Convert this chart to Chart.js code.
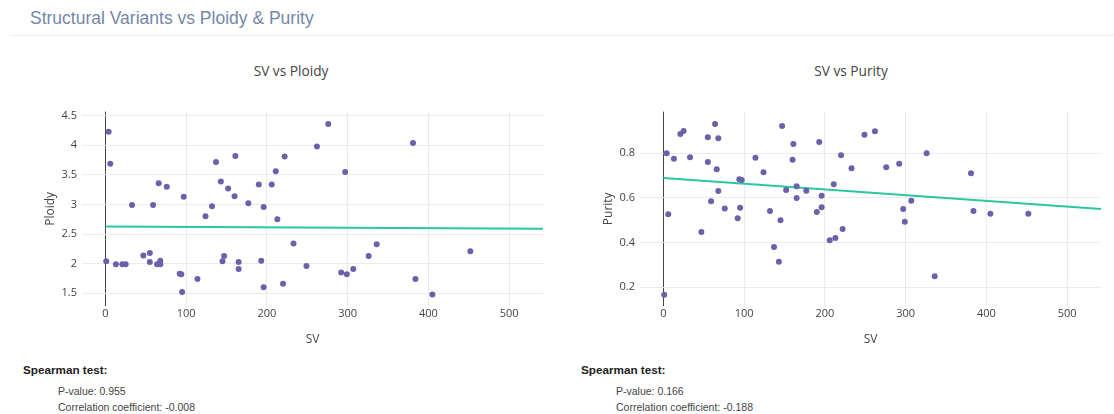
<!DOCTYPE html>
<html>
<head>
<meta charset="utf-8">
<script src="https://cdn.jsdelivr.net/npm/chart.js@4.4.0/dist/chart.umd.min.js"></script>
<style>
  html, body { margin: 0; padding: 0; background: #fff; overflow: hidden; }
  body { width: 1114px; height: 414px; position: relative; font-family: "Liberation Sans", Arial, sans-serif; }
  .page-title { position: absolute; left: 30px; top: 8px; font-size: 17.5px; color: #7487a6; }
  .divider { position: absolute; left: 12px; right: 0; top: 35px; height: 1px; background: #ececec; }
  .chart-title { position: absolute; top: 61px; font-family: "Open Sans", sans-serif; font-size: 13.7px; color: #444; text-align: center; width: 300px; }
  .box { position: absolute; top: 100px; height: 250px; width: 516px; }
  .stats { position: absolute; top: 363px; font-size: 10.5px; color: #444; }
  .stats b { color: #222; display: block; font-size: 11.7px; margin-bottom: 7px; }
  .stats div { margin-left: 35px; line-height: 16px; }
</style>
</head>
<body>
<div class="page-title">Structural Variants vs Ploidy &amp; Purity</div>
<div class="divider"></div>

<div class="chart-title" style="left:141px">SV vs Ploidy</div>
<div class="chart-title" style="left:701px">SV vs Purity</div>

<div class="box" style="left:40px"><canvas id="ploidy-chart"></canvas></div>
<div class="box" style="left:598px"><canvas id="purity-chart"></canvas></div>

<div class="stats" style="left:23px">
  <b>Spearman test:</b>
  <div>P-value: 0.955</div>
  <div>Correlation coefficient: -0.008</div>
</div>
<div class="stats" style="left:581px">
  <b>Spearman test:</b>
  <div>P-value: 0.166</div>
  <div>Correlation coefficient: -0.188</div>
</div>

<script>
(function() {
  'use strict';

  // Number of structural variants per sample (shared by both plots)
  var svCounts = [1, 4, 6, 13, 21, 25, 33, 47, 55, 55, 59, 64, 66, 68, 68, 76, 92, 94, 95, 97,
    114, 124, 132, 137, 143, 145, 147, 152, 160, 161, 165, 165, 177, 190, 193, 196, 196, 206,
    211, 213, 220, 222, 233, 249, 262, 276, 292, 297, 299, 307, 326, 336, 381, 384, 405, 452];

  var ploidyValues = [2.04, 4.23, 3.69, 1.99, 1.99, 1.99, 2.99, 2.14, 2.18, 2.03, 2.99, 1.99, 3.36,
    2.05, 1.99, 3.30, 1.83, 1.82, 1.52, 3.13, 1.74, 2.80, 2.97, 3.72, 3.39, 2.04, 2.13, 3.27,
    3.14, 3.82, 2.03, 1.91, 3.02, 3.34, 2.05, 2.96, 1.60, 3.34, 3.56, 2.75, 1.66, 3.81, 2.34,
    1.96, 3.98, 4.36, 1.85, 3.55, 1.82, 1.91, 2.13, 2.33, 4.04, 1.74, 1.48, 2.21];

  var purityValues = [0.166, 0.80, 0.527, 0.776, 0.887, 0.90, 0.782, 0.447, 0.872, 0.761, 0.585,
    0.931, 0.728, 0.867, 0.631, 0.552, 0.509, 0.683, 0.556, 0.68, 0.78, 0.715, 0.541, 0.38,
    0.314, 0.50, 0.922, 0.635, 0.771, 0.842, 0.652, 0.60, 0.632, 0.537, 0.851, 0.61, 0.558,
    0.41, 0.661, 0.42, 0.791, 0.46, 0.733, 0.883, 0.899, 0.737, 0.753, 0.55, 0.493, 0.587,
    0.80, 0.248, 0.71, 0.541, 0.529, 0.529];

  // Linear fit lines: value at the ends of fitRange
  var fitRange = [0, 542];
  var ploidyFit = [2.63, 2.59];
  var purityFit = [0.689, 0.55];

  var svTicks = [0, 100, 200, 300, 400, 500];

  var POINT_COLOR = '#6b61ab';
  var LINE_COLOR = '#2bc79f';
  var TICK_FONT = { family: 'Open Sans', size: 11 };
  var TITLE_FONT = { family: 'Open Sans', size: 12 };

  function makeChart(id, yValues, fit, yLabel, yMin, yMax, yStep, decimals) {
    var points = svCounts.map(function(sv, i) { return { x: sv, y: yValues[i] }; });
    var fitLine = fitRange.map(function(sv, i) { return { x: sv, y: fit[i] }; });

    return new Chart(document.getElementById(id), {
      type: 'scatter',
      data: {
        datasets: [
          {
            label: 'fit',
            type: 'line',
            data: fitLine,
            borderColor: LINE_COLOR,
            borderWidth: 2,
            pointRadius: 0,
            fill: false,
            order: 2
          },
          {
            label: yLabel,
            data: points,
            backgroundColor: POINT_COLOR,
            borderColor: POINT_COLOR,
            borderWidth: 0,
            pointRadius: 3,
            order: 1
          }
        ]
      },
      options: {
        responsive: true,
        maintainAspectRatio: false,
        animation: false,
        layout: { padding: { top: 11, right: 13, bottom: 0, left: 0 } },
        plugins: {
          legend: { display: false },
          tooltip: { enabled: false }
        },
        scales: {
          x: {
            type: 'linear',
            min: -29,
            max: 542,
            afterBuildTicks: function(scale) {
              scale.ticks = svTicks.map(function(v) { return { value: v }; });
            },
            afterFit: function(scale) { scale.height = 44; },
            border: { display: false },
            grid: {
              drawTicks: false,
              lineWidth: 1,
              color: function(ctx) { return ctx.tick && ctx.tick.value === 0 ? '#444' : '#ebebeb'; }
            },
            ticks: { color: '#444', font: TICK_FONT, padding: 1, maxRotation: 0 },
            title: { display: true, text: 'SV', color: '#444', font: TITLE_FONT, padding: { top: 0, bottom: 3 } }
          },
          y: {
            min: yMin,
            max: yMax,
            ticks: {
              stepSize: yStep,
              includeBounds: false,
              color: '#444',
              font: TICK_FONT,
              padding: 5,
              callback: function(v) { return decimals ? v.toFixed(decimals) : String(Math.round(v * 10) / 10); }
            },
            afterFit: function(scale) { scale.width = 42; },
            border: { display: false },
            grid: { drawTicks: false, color: '#ebebeb' },
            title: { display: true, text: yLabel, color: '#444', font: TITLE_FONT, padding: { top: 3, bottom: 0 } }
          }
        }
      }
    });
  }

  makeChart('ploidy-chart', ploidyValues, ploidyFit, 'Ploidy', 1.285, 4.57, 0.5, 0);
  makeChart('purity-chart', purityValues, purityFit, 'Purity', 0.115, 0.987, 0.2, 1);
})();
</script>
</body>
</html>
